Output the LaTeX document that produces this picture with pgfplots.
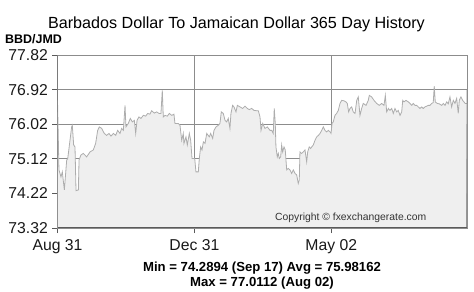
\documentclass[border=0pt]{standalone}
\usepackage{pgfplots}
\pgfplotsset{compat=1.18}
\usepackage{fontspec}
\setmainfont{Liberation Sans}
\definecolor{gridgray}{HTML}{8C8C8C}
\definecolor{axisdark}{HTML}{5A5A5A}
\definecolor{linegray}{HTML}{ADADAD}
\definecolor{fillgray}{HTML}{EFEFEF}
\pgfplotstableread{
d v
0 76.64
1.3 74.83
3.1 74.65
4.3 74.78
6.1 74.31
8.2 75.09
9.1 75.12
12.6 75.95
13.2 75.99
14.4 75.48
15.6 75.43
16.5 74.29
18.6 74.31
19.2 75.09
20.9 75.22
23 75.26
26 75.17
29 75.30
31.9 75.35
34 75.52
35.8 75.86
37.3 75.95
39.4 75.91
41.7 75.78
43.8 75.73
45.9 75.78
47.7 75.71
49.8 75.78
51.9 75.73
53.6 75.86
55.7 75.78
57.2 75.91
58.7 75.86
60.2 76.51
61 75.95
63.1 76.04
64.9 76.17
66.7 76.08
68.5 76.12
69.7 75.78
70.9 76.12
72.6 76.21
74.4 76.17
76.5 76.25
78.6 76.23
80.4 76.30
82.4 76.28
83.9 76.37
86.3 76.31
88.4 76.34
90.5 76.30
92.2 76.30
93.4 76.90
94.3 76.21
95.8 76.25
97.9 76.23
99.7 76.30
101.8 76.25
103.8 76.28
104.7 76.04
107.7 76.04
109.2 75.99
110.7 75.60
112.1 75.78
112.7 75.52
114.5 75.69
115.7 75.48
117.5 75.78
118.7 75.60
119.9 75.13
122.3 75.13
123.4 74.78
125.5 74.78
126.4 75.13
127.6 75.43
128.8 75.35
130 75.56
131.5 75.52
133 75.78
135.3 75.69
136.5 75.78
138.3 75.65
139.5 75.86
141.3 75.95
143.3 75.99
144.8 76.04
146 76.34
147.8 76.30
149.3 76.12
150.8 76.08
152.2 76.17
153.7 75.91
154.6 76.30
156.1 76.51
157.3 76.47
159.1 76.34
160.3 76.51
162.7 76.47
165 76.43
167.1 76.49
169.2 76.43
170.9 76.40
173.1 76.43
175.1 76.38
177.5 76.37
179 76.37
180.5 76.21
181.4 75.86
182.9 76.04
184.9 75.91
187 75.95
189.4 75.86
190.9 75.86
192.3 75.78
193.2 76.43
194.1 76.04
194.7 75.43
195.9 75.17
196.8 75.26
197.7 75.13
198.9 75.17
199.8 75.48
200.7 75.30
201.9 75.43
203 75.35
204.3 74.83
205.7 74.87
207.2 74.83
208.7 74.74
210.2 74.83
211.7 74.74
213.2 74.70
214.6 74.48
215.5 74.57
216.1 75.30
217.6 75.26
219.1 75.30
220.6 75.35
222.1 75.04
223 75.30
224.4 75.43
225.7 75.39
226.6 75.43
228 75.48
229.5 75.60
231 75.69
232.6 75.73
234 75.78
235.5 75.86
236.9 75.95
238.4 75.86
239.9 75.82
241.4 75.86
242.9 75.82
243.8 75.78
244.7 76.04
245.8 76.08
247.3 76.25
248.8 76.30
250.3 76.38
251.8 76.56
253.3 76.64
255.3 76.63
257.1 76.60
258.3 76.56
259.5 76.34
260.7 76.43
262.2 76.47
263.6 76.34
265.2 76.30
266.7 76.64
268.1 76.73
269.6 76.25
271.1 76.43
272.5 76.56
275 76.51
277 76.64
277.9 76.77
280 76.73
282.1 76.64
284.5 76.56
286.8 76.51
288.9 76.56
291 76.51
292.2 76.77
293.4 76.34
294.9 76.43
296.3 76.38
297.9 76.43
299.3 76.30
300.8 76.43
302.3 76.34
303.7 76.38
305.3 76.25
306.8 76.34
307.7 76.64
308.8 76.60
310.6 76.64
312.7 76.60
314.2 76.56
315.7 76.51
317.1 76.56
318.6 76.51
320.1 76.51
321.6 76.47
323.1 76.43
324.6 76.47
326 76.43
327.5 76.47
329.1 76.49
330.5 76.51
332 76.51
333.5 76.56
334.9 76.58
335.8 77.01
336.7 76.60
338.5 76.56
340.3 76.55
342.4 76.51
343.9 76.56
345.4 76.51
346.9 76.60
348.3 76.55
349.8 76.73
351.3 76.47
352.8 76.64
354.3 76.56
355.8 76.69
357.2 76.30
358.1 76.64
359.6 76.73
361.1 76.64
362.3 76.60
363.4 76.56
365 76.56
}\rates
\begin{document}
\begin{tikzpicture}
\begin{axis}[
  at={(0,0)}, anchor=south west,
  scale only axis, width=409.5bp, height=173bp,
  xmin=0, xmax=365, ymin=73.32, ymax=77.82,
  xtick={0,122,244}, xticklabels={Aug 31,Dec 31,May 02},
  ytick={73.32,74.22,75.12,76.02,76.92,77.82},
  yticklabels={73.32,74.22,75.12,76.02,76.92,77.82},
  /pgf/number format/assume math mode=true,
  grid=major, major grid style={draw=gridgray, line width=0.9bp},
  axis line style={draw=gridgray, line width=0.9bp},
  tick align=outside, xtick pos=bottom, ytick pos=left,
  major tick length=5bp,
  tick style={draw=axisdark, line width=0.8bp},
  ticklabel style={font=\fontsize{15.8}{15.8}\selectfont, text=black!90},
  yticklabel style={inner sep=0pt, xshift=-4.5bp},
  xticklabel style={inner sep=0pt, yshift=-6bp},
  axis on top=false,
]
\addplot[draw=none, fill=fillgray] table[x=d, y=v] {\rates} \closedcycle;
\addplot[draw=linegray, line width=0.8bp] table[x=d, y=v] {\rates};
\draw[gridgray, line width=0.9bp] (rel axis cs:0,1) -- (rel axis cs:1,1) -- (rel axis cs:1,0);
\draw[gridgray, line width=0.8bp] (rel axis cs:1,0.2) -- ++(-2.5bp,0);
\draw[gridgray, line width=0.8bp] (rel axis cs:1,0.4) -- ++(-2.5bp,0);
\draw[gridgray, line width=0.8bp] (rel axis cs:1,0.6) -- ++(-2.5bp,0);
\draw[gridgray, line width=0.8bp] (rel axis cs:1,0.8) -- ++(-2.5bp,0);
\draw[axisdark, line width=1.3bp] (rel axis cs:0,1) -- (rel axis cs:0,0) -- (rel axis cs:1,0);
\end{axis}
\node[anchor=base, inner sep=0] at (179bp,199.5bp) {\fontsize{16.2}{16.2}\selectfont Barbados Dollar To Jamaican Dollar 365 Day History};
\node[anchor=base west, inner sep=0] at (-52.5bp,184bp) {\bfseries\fontsize{12.5}{12.5}\selectfont BBD/JMD};
\node[anchor=base west, inner sep=0, text=black!80] at (217.5bp,8bp) {\fontsize{10.4}{10.4}\selectfont Copyright \textcopyright\ fxexchangerate.com};
\node[anchor=base, inner sep=0] at (204.5bp,-43.5bp) {\bfseries\fontsize{13.2}{13.2}\selectfont Min = 74.2894 (Sep 17) Avg = 75.98162};
\node[anchor=base, inner sep=0] at (204.5bp,-58bp) {\bfseries\fontsize{13.2}{13.2}\selectfont Max = 77.0112 (Aug 02)};
\pgfresetboundingbox
\useasboundingbox (-57.5bp,-64bp) rectangle (416.5bp,228bp);
\end{tikzpicture}
\end{document}
